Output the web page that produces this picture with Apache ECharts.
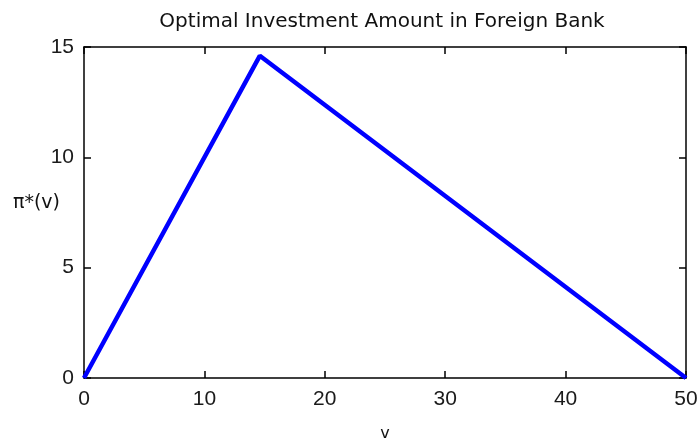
<!DOCTYPE html>
<html><head><meta charset="utf-8">
<script src="https://cdn.jsdelivr.net/npm/echarts@6/dist/echarts.min.js"></script>
<style>html,body{margin:0;padding:0;background:#fff}#c{width:700px;height:443px}</style>
</head><body><div id="c"></div>
<script>
var vValues = [0, 14.6, 50];
var piValues = [0, 14.6, 0];
var xTicks = [0, 10, 20, 30, 40, 50];
var yTicks = [0, 5, 10, 15];

var chart = echarts.init(document.getElementById('c'));
var axisFont = {fontFamily: 'Liberation Sans, Arial, sans-serif', fontSize: 21, color: '#1a1a1a'};
var lineStyle = {color: '#000', width: 1.5};
var data = vValues.map(function (v, i) { return [v, piValues[i]]; });
chart.setOption({
  animation: false,
  title: {
    text: 'Optimal Investment Amount in Foreign Bank',
    left: 377, top: 7, textAlign: 'center',
    textStyle: {fontFamily: 'DejaVu Sans, sans-serif', fontSize: 20, fontWeight: 'normal', color: '#111'}
  },
  grid: {left: 84, right: 14, top: 47, bottom: 65, containLabel: false, outerBoundsMode: 'none'},
  xAxis: [{
    type: 'value', min: xTicks[0], max: xTicks[xTicks.length - 1], interval: 10,
    name: 'v', nameLocation: 'middle', nameGap: 48, nameMoveOverlap: false,
    nameTextStyle: {fontFamily: 'DejaVu Sans, sans-serif', fontSize: 16, color: '#111', verticalAlign: 'top'},
    axisLine: {show: true, onZero: false, lineStyle: lineStyle},
    axisTick: {show: true, inside: true, length: 7, lineStyle: lineStyle},
    axisLabel: Object.assign({margin: 11}, axisFont),
    splitLine: {show: false}
  }, {
    type: 'value', min: xTicks[0], max: xTicks[xTicks.length - 1], interval: 10, position: 'top',
    axisLine: {show: true, onZero: false, lineStyle: lineStyle},
    axisTick: {show: true, inside: true, length: 7, lineStyle: lineStyle},
    axisLabel: {show: false}, splitLine: {show: false}
  }],
  yAxis: [{
    type: 'value', min: yTicks[0], max: yTicks[yTicks.length - 1], interval: 5,
    name: 'π*(v)', nameLocation: 'middle', nameGap: 24, nameRotate: 0, nameMoveOverlap: false,
    nameTextStyle: {fontFamily: 'DejaVu Sans, sans-serif', fontSize: 19, color: '#111', align: 'right', verticalAlign: 'bottom'},
    axisLine: {show: true, onZero: false, lineStyle: lineStyle},
    axisTick: {show: true, inside: true, length: 7, lineStyle: lineStyle},
    axisLabel: Object.assign({margin: 10}, axisFont),
    splitLine: {show: false}
  }, {
    type: 'value', min: yTicks[0], max: yTicks[yTicks.length - 1], interval: 5, position: 'right',
    axisLine: {show: true, onZero: false, lineStyle: lineStyle},
    axisTick: {show: true, inside: true, length: 7, lineStyle: lineStyle},
    axisLabel: {show: false}, splitLine: {show: false}
  }],
  series: [{
    type: 'line', data: data, showSymbol: false, symbol: 'none',
    lineStyle: {color: '#0000ff', width: 4.5}, z: 1
  }]
});
</script></body></html>
